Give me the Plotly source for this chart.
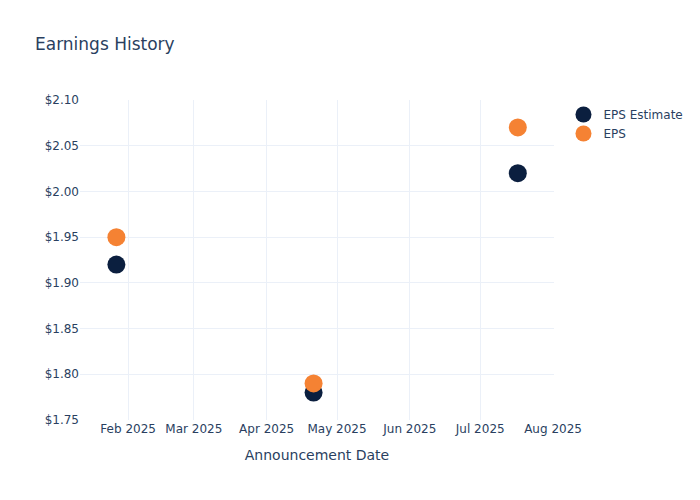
import plotly.graph_objects as go

dates = ["2025-01-27", "2025-04-21", "2025-07-17"]
eps_estimate = [1.92, 1.78, 2.02]
eps_actual = [1.95, 1.79, 2.07]

fig = go.Figure()
fig.add_trace(go.Scatter(x=dates, y=eps_estimate, mode="markers", name="EPS Estimate",
                         marker=dict(size=18, color="#0B1F3F")))
fig.add_trace(go.Scatter(x=dates, y=eps_actual, mode="markers", name="EPS",
                         marker=dict(size=18, color="#F58233")))
fig.update_layout(
    template="plotly_white",
    width=700, height=500,
    font=dict(family="DejaVu Sans"),
    title=dict(text="Earnings History"),
    xaxis=dict(title="Announcement Date", tickformat="%b %Y", dtick="M1",
               range=["2025-01-11 12:00", "2025-08-01 10:00"]),
    yaxis=dict(range=[1.75, 2.10], tickprefix="$", tickformat=".2f", dtick=0.05),
)
fig.write_html("out.html", config={"displayModeBar": False},
               post_script="document.body.style.margin='0';")
